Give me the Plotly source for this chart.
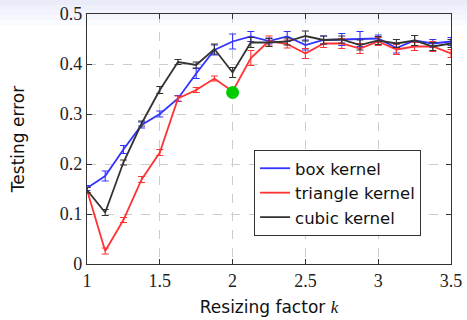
import plotly.graph_objects as go

x_vals = [1, 1.125, 1.25, 1.375, 1.5, 1.625, 1.75, 1.875, 2, 2.125, 2.25,
          2.375, 2.5, 2.625, 2.75, 2.875, 3, 3.125, 3.25, 3.375, 3.5]

box_err_mean = [0.152, 0.176, 0.229, 0.278, 0.300, 0.331, 0.381, 0.428, 0.445, 0.455, 0.446,
                0.455, 0.438, 0.448, 0.449, 0.450, 0.451, 0.432, 0.447, 0.441, 0.445]
box_err_sd = [0.005, 0.010, 0.008, 0.006, 0.006, 0.006, 0.010, 0.010, 0.015, 0.010, 0.006,
              0.010, 0.010, 0.008, 0.012, 0.015, 0.007, 0.010, 0.010, 0.008, 0.008]

tri_err_mean = [0.148, 0.026, 0.088, 0.169, 0.223, 0.331, 0.348, 0.371, 0.345, 0.412, 0.446,
                0.440, 0.421, 0.441, 0.441, 0.431, 0.445, 0.429, 0.435, 0.435, 0.421]
tri_err_sd = [0.005, 0.006, 0.005, 0.006, 0.006, 0.005, 0.005, 0.005, 0.0, 0.015, 0.010,
              0.008, 0.010, 0.008, 0.010, 0.010, 0.008, 0.010, 0.008, 0.010, 0.008]

cub_err_mean = [0.148, 0.103, 0.203, 0.281, 0.348, 0.404, 0.398, 0.430, 0.383, 0.443, 0.443,
                0.445, 0.456, 0.448, 0.449, 0.438, 0.447, 0.441, 0.447, 0.435, 0.441]
cub_err_sd = [0.005, 0.006, 0.005, 0.005, 0.007, 0.005, 0.006, 0.010, 0.010, 0.010, 0.008,
              0.007, 0.010, 0.008, 0.007, 0.010, 0.008, 0.008, 0.010, 0.008, 0.008]

highlight_x = [2.0]
highlight_y = [0.343]

x_ticks = [1, 1.5, 2, 2.5, 3, 3.5]
x_tick_labels = ["1", "1.5", "2", "2.5", "3", "3.5"]
y_ticks = [0, 0.1, 0.2, 0.3, 0.4, 0.5]
y_tick_labels = ["0", "0.1", "0.2", "0.3", "0.4", "0.5"]

series = [
    ("box kernel", box_err_mean, box_err_sd, "#3333ff"),
    ("triangle kernel", tri_err_mean, tri_err_sd, "#ff3333"),
    ("cubic kernel", cub_err_mean, cub_err_sd, "#333333"),
]

fig = go.Figure()
for name, ys, es, col in series:
    fig.add_trace(go.Scatter(
        x=x_vals, y=ys, name=name, mode="lines",
        line=dict(color=col, width=1.8),
        error_y=dict(type="data", array=es, visible=True, color=col,
                     thickness=1.1, width=3.5),
    ))

fig.add_trace(go.Scatter(
    x=highlight_x, y=highlight_y, mode="markers", showlegend=False,
    marker=dict(color="#00cc00", size=13, line=dict(width=0)),
))

serif = "Liberation Serif"
sans = "DejaVu Sans"

axis_common = dict(
    showline=True, linecolor="#333333", linewidth=1.3, mirror="ticks",
    ticks="inside", ticklen=5, tickcolor="#333333",
    showgrid=True, gridcolor="#cccccc", griddash="dash", gridwidth=1,
    zeroline=False, automargin=False, ticklabeloverflow="allow",
    tickfont=dict(family=serif, size=18, color="#222222"),
)

W, H = 467, 320
ML, MR, MT, MB = 87, 16, 14, 56
ph = H - MT - MB
band_colors = ["#eaecfa", "#eef0fb", "#f2f3fc", "#f6f7fd", "#fafbfe"]
shapes = []
for i, c in enumerate(band_colors):
    top_px = i * 5
    shapes.append(dict(type="rect", xref="paper", yref="paper",
                       x0=-ML / (W - ML - MR), x1=1 + MR / (W - ML - MR),
                       y1=1 + (MT - top_px) / ph, y0=1 + (MT - top_px - 5) / ph,
                       fillcolor=c, line=dict(width=0), layer="below"))

fig.update_layout(
    width=W, height=H,
    margin=dict(l=ML, r=MR, t=MT, b=MB),
    paper_bgcolor="white", plot_bgcolor="white",
    xaxis=dict(range=[1, 3.5], tickvals=x_ticks, ticktext=x_tick_labels,
               title=dict(text="Resizing factor <span style=\"font-family:'Liberation Serif'\"><i>k</i></span>",
                          font=dict(family=sans, size=17, color="#111111"), standoff=11),
               **axis_common),
    yaxis=dict(range=[0, 0.5], tickvals=y_ticks, ticktext=y_tick_labels,
               title=dict(text="Testing error",
                          font=dict(family=sans, size=17, color="#111111"), standoff=30),
               **axis_common),
    legend=dict(x=0.459, y=0.456, xanchor="left", yanchor="top",
                bgcolor="white", bordercolor="#333333", borderwidth=1,
                font=dict(family=sans, size=16.5, color="#111111"),
                tracegroupgap=0),
    showlegend=True,
    shapes=shapes,
)

fig.write_html("out.html", config={"displayModeBar": False},
               post_script="document.body.style.margin='0';")
